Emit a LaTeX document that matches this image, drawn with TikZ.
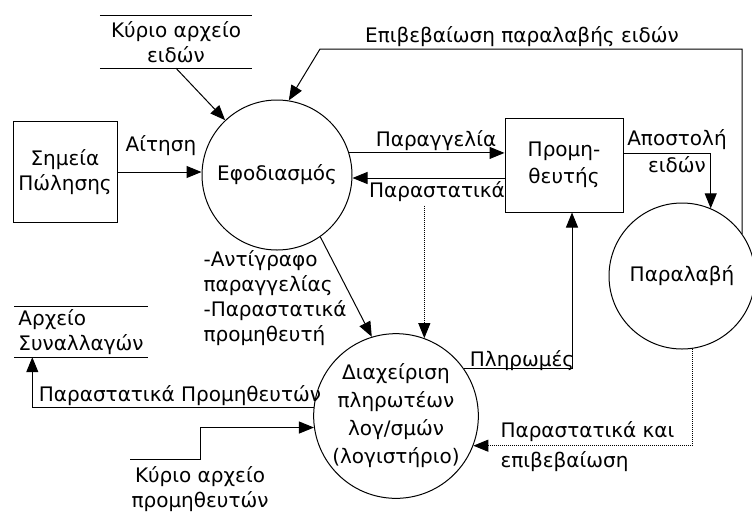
\documentclass[tikz,border=0pt]{standalone}
\usepackage{fontspec}
\setmainfont{DejaVu Sans}
\usetikzlibrary{arrows.meta}

\begin{document}
\begin{tikzpicture}[x=1pt,y=-1pt,
	every node/.style={font=\fontsize{20}{25}\selectfont, align=center},
	process/.style={draw, circle, line width=1pt, minimum size=150pt, inner sep=0pt},
	procbox/.style={draw, rectangle, line width=1pt},
	store/.style={inner sep=1pt},
	flow/.style={line width=1pt, -{Triangle[length=15pt,width=12pt]}}]
	\useasboundingbox (0,0) rectangle (752,512);

	% the processes
	\node[process] (supply) at (277,175) {Εφοδιασμός};
	\node[process, minimum size=146pt] (receive) at (682,276) {Παραλαβή};
	\node[process, font=\fontsize{20}{28}\selectfont] (payable) at (396,416) {Διαχείριση\\πληρωτέων\\λογ/σμών\\(λογιστήριο)};

	% the external entities
	\node[procbox, minimum width=104pt, minimum height=101pt] (sales) at (65,172) {Σημεία\\Πώλησης};
	\node[procbox, minimum width=118pt, minimum height=94pt, font=\fontsize{20}{27}\selectfont] (supplier) at (564,165) {Προμη-\\θευτής};

	% the data stores
	\node[store, minimum width=152pt, minimum height=52pt] (itemstore) at (176,42) {Κύριο αρχείο\\ειδών};
	\node[store, minimum width=133pt, minimum height=50pt, align=left] (transstore) at (81,332) {Αρχείο\\Συναλλαγών};
	\node[store, minimum height=58pt] (vendorstore) at (200,489) {Κύριο αρχείο\\προμηθευτών};
	\draw[line width=1pt] (itemstore.north west) -- (itemstore.north east);
	\draw[line width=1pt] (itemstore.south west) -- (itemstore.south east);
	\draw[line width=1pt] (transstore.north west) -- (transstore.north east);
	\draw[line width=1pt] (transstore.south west) -- (transstore.south east);
	\draw[line width=1pt] (vendorstore.north west) -- (vendorstore.north);

	% the flow labels
	\node (askl) at (161,146) {Αίτηση};
	\node (orderl) at (436,141) {Παραγγελία};
	\node (docsl) at (437,192) {Παραστατικά};
	\node[align=left, anchor=west] (copyl) at (200,298) {-Αντίγραφο\\παραγγελίας\\-Παραστατικά\\προμηθευτή};
	\node[font=\fontsize{20}{27}\selectfont] (shipl) at (677,151) {Αποστολή\\ειδών};
	\node (confl) at (522,37) {Επιβεβαίωση παραλαβής ειδών};
	\node (payl) at (522,361) {Πληρωμές};
	\node[align=left, anchor=west, font=\fontsize{20}{30}\selectfont] (recdocl) at (497,447) {Παραστατικά και\\επιβεβαίωση};
	\node (vdocl) at (180,396) {Παραστατικά Προμηθευτών};
	\coordinate (confbend) at (320,49);

	% draw the flows
	\draw[flow] (itemstore.south) -- (supply);
	\draw[flow] (sales.east) -- (sales.east -| supply.west);
	\draw[flow] (supply.17) -- (supply.17 -| supplier.west);
	\draw[flow] ([yshift=-13pt]supplier.west) -- ([yshift=-13pt]supplier.west -| supply.east);
	\draw[flow, densely dotted] (payable.70 |- docsl.south) -- (payable.70);
	\draw[flow] (supply.-55) -- (payable.107);
	\draw[flow] ([yshift=12pt]supplier.east) -| (receive.67);
	\draw[flow] (receive.35) |- (confbend) -- (supply.81);
	\draw[flow] (payable.35) -| ([xshift=8pt]supplier.south);
	\draw[flow, densely dotted] (receive.-82) |- (payable.-21);
	\draw[flow] (payable.174) -| ([xshift=18pt]transstore.south west);
	\draw[flow] (vendorstore.north) |- (payable.188);

\end{tikzpicture}
\end{document}
